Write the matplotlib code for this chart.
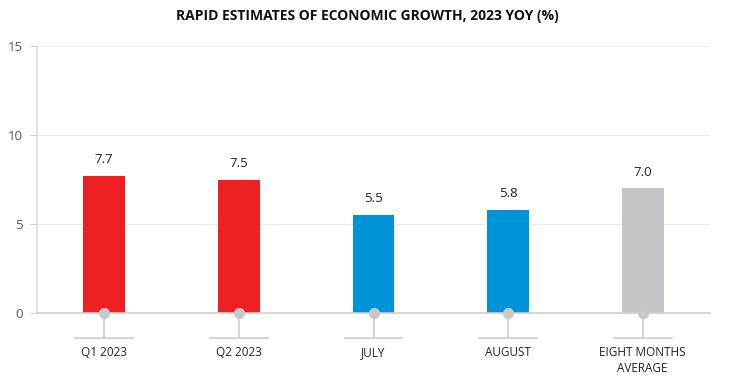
import matplotlib.pyplot as plt
import matplotlib.transforms as mtransforms

categories = ["Q1 2023", "Q2 2023", "JULY", "AUGUST", "EIGHT MONTHS\nAVERAGE"]
values = [7.7, 7.5, 5.5, 5.8, 7.0]
bar_colors = ["#ee2024", "#ee2024", "#0093d8", "#0093d8", "#c5c5c7"]
y_ticks = [0, 5, 10, 15]

plt.rcParams["font.family"] = ["Open Sans", "DejaVu Sans"]

fig = plt.figure(figsize=(7.34, 3.78), dpi=100)
ax = fig.add_axes([37 / 734, 1 - 313 / 378, 673 / 734, 267 / 378])

x = list(range(len(categories)))
ax.bar(x, values, width=0.31, color=bar_colors, zorder=2)

# value labels above bars
for xi, v in zip(x, values):
    ax.annotate(f"{v:.1f}", (xi, v), xytext=(0, 7), textcoords="offset points",
                ha="center", va="bottom", fontsize=9.5, color="#222222")

ax.set_xlim(-0.5, len(categories) - 0.5)
ax.set_ylim(0, 15)
ax.set_yticks(y_ticks)
ax.set_xticks([])
ax.grid(axis="y", color="#ebebeb", linewidth=0.8, zorder=0)
ax.tick_params(axis="y", length=5, color="#d0d0d0", labelsize=9.5,
               labelcolor="#555555", pad=5)
for s in ["top", "right"]:
    ax.spines[s].set_visible(False)
ax.spines["left"].set_color("#dcdcdc")
ax.spines["left"].set_linewidth(1.2)
ax.spines["bottom"].set_color("#d0d0d0")
ax.spines["bottom"].set_linewidth(1.2)
ax.spines["bottom"].set_zorder(3)

# decorative category ticks with a dot, stem and underline
trans = mtransforms.blended_transform_factory(ax.transData, ax.transAxes)
px = 1 / 267  # one pixel in axes-fraction units (vertical)
for xi, label in zip(x, categories):
    ax.plot([xi, xi], [0, -25 * px], transform=trans, color="#cccccc",
            linewidth=1.2, clip_on=False, zorder=3)
    ax.plot([xi - 0.215, xi + 0.215], [-25 * px, -25 * px], transform=trans,
            color="#cccccc", linewidth=1.2, clip_on=False, zorder=3)
    ax.plot([xi], [0], transform=trans, marker="o", markersize=7,
            color="#c8c8ca", clip_on=False, zorder=4)
    ax.text(xi, -33 * px, label, transform=trans, ha="center", va="top",
            fontsize=8.5, color="#222222", linespacing=1.35)

fig.suptitle("RAPID ESTIMATES OF ECONOMIC GROWTH, 2023 YOY (%)", x=0.5, y=0.975,
             fontsize=10, fontweight="bold", color="#111111", va="top")

fig.savefig("out.png", dpi=100)
plt.close(fig)
